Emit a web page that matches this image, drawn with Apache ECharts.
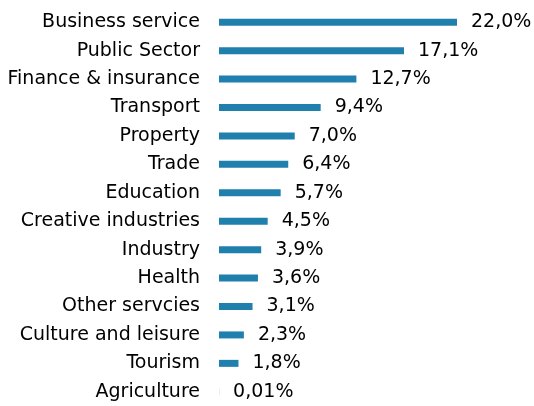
<!DOCTYPE html>
<html>
<head>
<meta charset="utf-8">
<script src="https://cdn.jsdelivr.net/npm/echarts@6/dist/echarts.min.js"></script>
<style>
  html, body { margin: 0; padding: 0; background: #fff; }
  #chart { width: 534px; height: 406px; }
</style>
</head>
<body>
<div id="chart"></div>
<script>
// sectors top to bottom
const sectors = [
  'Business service', 'Public Sector', 'Finance & insurance', 'Transport',
  'Property', 'Trade', 'Education', 'Creative industries', 'Industry',
  'Health', 'Other servcies', 'Culture and leisure', 'Tourism', 'Agriculture'
]
const shares = [22.0, 17.1, 12.7, 9.4, 7.0, 6.4, 5.7, 4.5, 3.9, 3.6, 3.1, 2.3, 1.8, 0.01]
const shareLabels = [
  '22,0%', '17,1%', '12,7%', '9,4%', '7,0%', '6,4%', '5,7%', '4,5%',
  '3,9%', '3,6%', '3,1%', '2,3%', '1,8%', '0,01%'
]

const chart = echarts.init(document.getElementById('chart'), null, { renderer: 'canvas' })

chart.setOption({
  animation: false,
  grid: { left: 219, top: 8, width: 238, height: 402 },
  xAxis: {
    type: 'value',
    min: 0,
    max: 22,
    show: false,
  },
  yAxis: {
    type: 'category',
    inverse: true,
    data: sectors,
    axisLine: { show: false },
    axisTick: { show: false },
    axisLabel: {
      margin: 19,
      color: '#000',
      fontFamily: 'DejaVu Sans',
      fontSize: 19,
    },
  },
  series: [
    {
      type: 'bar',
      data: shares,
      barWidth: 7,
      itemStyle: { color: '#1f80ae' },
      label: {
        show: true,
        position: 'right',
        distance: 14,
        color: '#000',
        fontFamily: 'DejaVu Sans',
        fontSize: 19,
        formatter: (p) => shareLabels[p.dataIndex],
      },
    },
  ],
})
</script>
</body>
</html>
